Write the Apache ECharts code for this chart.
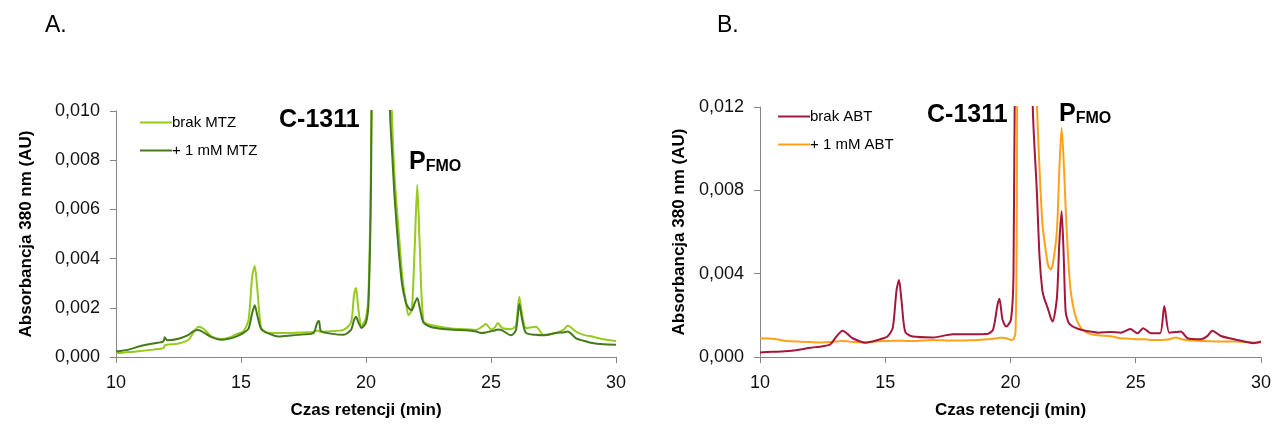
<!DOCTYPE html>
<html>
<head>
<meta charset="utf-8">
<script src="https://cdn.jsdelivr.net/npm/echarts@6/dist/echarts.min.js"></script>
<style>
html,body{margin:0;padding:0;background:#fff;}
#chart{width:1274px;height:425px;}
</style>
</head>
<body>
<div id="chart"></div>
<script>
// ---- Panel A data (retention time, min) ----
const timeA = [10.0,10.5,11.0,11.5,11.9,11.95,12.05,12.5,12.9,13.1,13.3,13.5,13.8,14.2,14.5,14.8,15.1,15.3,15.45,15.55,15.65,15.8,16.0,16.5,17.0,17.5,17.9,18.05,18.12,18.2,18.6,19.1,19.4,19.52,19.6,19.7,19.82,20.0,20.1,20.2,20.3,20.6,20.96,21.05,21.15,21.3,21.45,21.6,21.7,21.83,21.95,22.05,22.15,22.3,22.6,23.0,23.5,24.0,24.4,24.6,24.8,25.0,25.15,25.27,25.45,25.8,26.0,26.13,26.25,26.4,26.8,27.1,27.6,27.9,28.07,28.4,28.7,29.05,29.5,30.0];
const brakMTZ = [0.00015,0.0002,0.00024,0.0003,0.00036,0.00048,0.0005,0.00055,0.0007,0.001,0.00123,0.00115,0.00085,0.00073,0.00078,0.00092,0.00105,0.0015,0.0033,0.0037,0.0028,0.0012,0.001,0.00098,0.00098,0.001,0.00102,0.00108,0.00105,0.00103,0.00105,0.0011,0.0014,0.0025,0.0028,0.0019,0.00125,0.0016,0.0026,0.008,0.02,0.04,0.013,0.0095,0.0072,0.0052,0.0033,0.0022,0.0017,0.0019,0.0045,0.007,0.0045,0.00145,0.0013,0.00122,0.00115,0.00113,0.0011,0.0012,0.00134,0.00112,0.0012,0.00138,0.00118,0.00113,0.0013,0.00245,0.0017,0.00118,0.00123,0.0009,0.00098,0.0011,0.00128,0.00103,0.0009,0.00083,0.00072,0.00065];
const mMTZ = [0.00022,0.0003,0.00045,0.00055,0.00064,0.0008,0.00068,0.00074,0.0009,0.00105,0.0011,0.001,0.00082,0.0007,0.00074,0.00083,0.00098,0.00115,0.0018,0.0021,0.0017,0.00115,0.001,0.00083,0.00087,0.00092,0.00098,0.0014,0.00146,0.00105,0.00095,0.0009,0.0011,0.0015,0.00164,0.0014,0.00118,0.0014,0.0022,0.007,0.02,0.04,0.01,0.0082,0.0064,0.0044,0.0029,0.0022,0.002,0.0019,0.0022,0.0024,0.002,0.0014,0.00122,0.00115,0.00111,0.00109,0.00104,0.00098,0.001,0.00105,0.00108,0.00112,0.00108,0.00088,0.0011,0.00215,0.0015,0.00098,0.0009,0.00088,0.00098,0.001,0.00104,0.00076,0.00066,0.00057,0.00052,0.0005];

// ---- Panel B data ----
const timeB = [10.0,10.5,11.0,11.5,12.0,12.5,12.8,13.0,13.3,13.5,13.7,14.2,14.7,15.1,15.3,15.45,15.55,15.65,15.8,16.1,16.9,17.7,18.4,19.05,19.3,19.48,19.56,19.68,19.83,20.02,20.12,20.2,20.25,20.3,20.6,20.89,21.05,21.16,21.27,21.35,21.5,21.6,21.68,21.85,21.95,22.04,22.12,22.2,22.3,22.4,22.6,22.85,23.2,23.5,24.0,24.4,24.78,25.07,25.3,25.6,25.97,26.14,26.34,26.6,26.8,27.07,27.6,27.85,28.06,28.4,29.05,29.7,30.0];
const brakABT = [0.00022,0.00025,0.00028,0.00034,0.00044,0.00052,0.0006,0.0009,0.00126,0.0011,0.0009,0.00069,0.00082,0.001,0.0014,0.0032,0.0037,0.0027,0.0012,0.00098,0.00094,0.00109,0.00109,0.0011,0.0013,0.0025,0.0028,0.0018,0.00146,0.0018,0.004,0.02,0.03,0.035,0.04,0.012,0.008,0.0048,0.0032,0.0028,0.0023,0.0019,0.0017,0.0028,0.0055,0.007,0.005,0.0022,0.0017,0.00154,0.0014,0.0013,0.00122,0.00117,0.0012,0.00117,0.00134,0.00114,0.00138,0.00114,0.00114,0.00245,0.00117,0.0012,0.00122,0.0009,0.00085,0.001,0.00126,0.00101,0.00082,0.00066,0.00074];
const mABT = [0.0009,0.00088,0.00078,0.00074,0.00072,0.0007,0.00072,0.00074,0.00077,0.00075,0.00072,0.0007,0.00075,0.00077,0.00078,0.00078,0.00078,0.00078,0.00077,0.00077,0.00082,0.00079,0.0008,0.00085,0.00088,0.0009,0.00092,0.00093,0.0009,0.00082,0.00085,0.0012,0.006,0.02,0.04,0.03,0.0125,0.009,0.0065,0.0056,0.0044,0.0042,0.0044,0.006,0.009,0.011,0.0095,0.0072,0.0048,0.0032,0.00194,0.00134,0.0011,0.00104,0.001,0.0009,0.00088,0.00085,0.00085,0.00082,0.00082,0.00083,0.00085,0.00094,0.00086,0.0008,0.00077,0.00076,0.00075,0.00074,0.00074,0.0007,0.00069];

const xTicks = [10, 15, 20, 25, 30];
const namesA = ['brak MTZ', '+ 1 mM MTZ'];
const namesB = ['brak ABT', '+ 1 mM ABT'];

const pair = (t, v) => t.map((x, i) => [x, v[i]]);
const fmt = v => v.toFixed(3).replace('.', ',');
const FONT = "'Liberation Sans', Arial, sans-serif";
const axisGray = '#868686';

function xAxisCfg(gridIndex) {
  return {
    gridIndex, type: 'value', min: xTicks[0], max: xTicks[xTicks.length - 1], interval: 5,
    name: 'Czas retencji (min)', nameLocation: 'middle', nameGap: 45,
    nameTextStyle: { fontFamily: FONT, fontSize: 17, fontWeight: 'bold', color: '#000' },
    axisLine: { lineStyle: { color: axisGray, width: 1 } },
    axisTick: { show: true, length: 6, lineStyle: { color: axisGray } },
    axisLabel: { fontFamily: FONT, fontSize: 18, color: '#111', margin: 17 },
    splitLine: { show: false }
  };
}
function yAxisCfg(gridIndex, max, interval, gap) {
  return {
    gridIndex, type: 'value', min: 0, max, interval,
    name: 'Absorbancja 380 nm (AU)', nameLocation: 'middle', nameGap: gap, nameRotate: 90,
    nameTextStyle: { fontFamily: FONT, fontSize: 17, fontWeight: 'bold', color: '#000' },
    axisLine: { show: true, lineStyle: { color: axisGray, width: 1 } },
    axisTick: { show: true, length: 6, lineStyle: { color: axisGray } },
    axisLabel: { fontFamily: FONT, fontSize: 18, color: '#111', margin: 16, formatter: fmt },
    splitLine: { show: false }
  };
}
function line(name, data, color, idx) {
  return {
    name, type: 'line', xAxisIndex: idx, yAxisIndex: idx, data,
    symbol: 'none', smooth: 0.25, clip: true,
    lineStyle: { color, width: 2 }, itemStyle: { color }
  };
}
function legendCfg(names, left, top) {
  return {
    data: names, left, top, orient: 'vertical', itemWidth: 32, itemHeight: 14, itemGap: 13,
    icon: 'path://M0,6.5 L32,6.5 L32,8.5 L0,8.5 Z',
    textStyle: { fontFamily: FONT, fontSize: 15, color: '#000', padding: [0, 0, 0, -5] }
  };
}

const chart = echarts.init(document.getElementById('chart'), null, { renderer: 'canvas' });
chart.setOption({
  animation: false,
  backgroundColor: '#fff',
  grid: [
    { left: 116, top: 111, width: 500, height: 246 },
    { left: 760, top: 107, width: 502, height: 250 }
  ],
  xAxis: [xAxisCfg(0), xAxisCfg(1)],
  yAxis: [yAxisCfg(0, 0.010, 0.002, 81), yAxisCfg(1, 0.012, 0.004, 72)],
  legend: [legendCfg(namesA, 135, 110), legendCfg(namesB, 773, 104)],
  series: [
    line(namesA[0], pair(timeA, brakMTZ), '#96CA1E', 0),
    line(namesA[1], pair(timeA, mMTZ), '#457A1C', 0),
    line(namesB[1], pair(timeB, mABT), '#FFA21A', 1),
    line(namesB[0], pair(timeB, brakABT), '#A3173A', 1)
  ],
  graphic: [
    { type: 'text', left: 45, top: 14, style: { text: 'A.', font: '23px ' + FONT, fill: '#000' } },
    { type: 'text', left: 717, top: 14, style: { text: 'B.', font: '23px ' + FONT, fill: '#000' } },
    { type: 'text', left: 279, top: 108, style: { text: 'C-1311', font: 'bold 25px ' + FONT, fill: '#000' } },
    { type: 'text', left: 927, top: 103, style: { text: 'C-1311', font: 'bold 25px ' + FONT, fill: '#000' } },
    { type: 'text', left: 409, top: 150, style: {
        text: '{p|P}{s|FMO}', fill: '#000',
        rich: { p: { font: 'bold 25px ' + FONT, verticalAlign: 'bottom' }, s: { font: 'bold 16px ' + FONT, padding: [10, 0, 0, 0], verticalAlign: 'bottom' } } } },
    { type: 'text', left: 1059, top: 102, style: {
        text: '{p|P}{s|FMO}', fill: '#000',
        rich: { p: { font: 'bold 25px ' + FONT, verticalAlign: 'bottom' }, s: { font: 'bold 16px ' + FONT, padding: [10, 0, 0, 0], verticalAlign: 'bottom' } } } }
  ]
});
</script>
</body>
</html>
